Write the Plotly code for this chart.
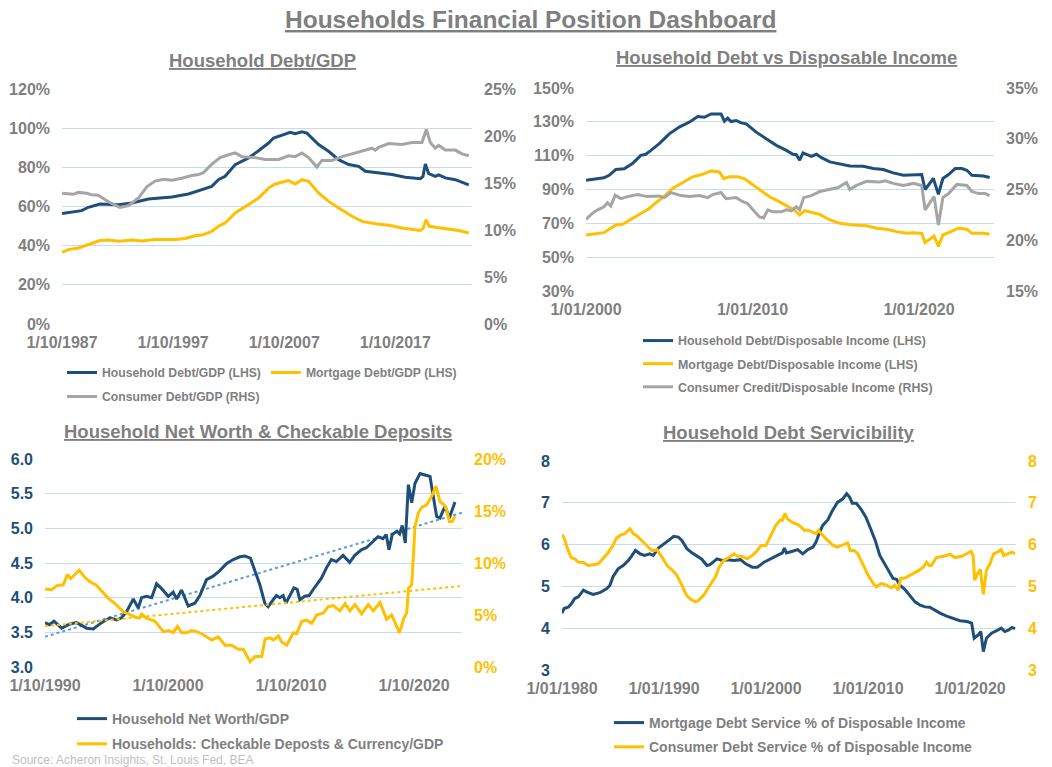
import numpy as np
import plotly.graph_objects as go

# ---------------- Colours / fonts ----------------
NAVY = "#1F4E79"
GOLD = "#FFC000"
GREY = "#A5A5A5"
TXT = "#7F7F7F"
GRID = "#C9DCEF"
FONT = "Liberation Sans, Arial, sans-serif"

# ---------------- Panel 1: Household Debt/GDP ----------------
p1_hh_x = [1987.75, 1988.92, 1989.52, 1990.12, 1991.17, 1992.82, 1994.03, 1995.53, 1997.63, 1999.13,
           2000.33, 2001.23, 2001.83, 2002.43, 2003.34, 2004.54, 2005.44, 2006.34, 2006.79, 2007.54,
           2008.29, 2008.74, 2009.34, 2009.79, 2010.84, 2011.74, 2012.64, 2013.55, 2014.45, 2015.05,
           2016.25, 2017.45, 2018.65, 2020.0, 2020.24, 2020.45, 2020.75, 2021.35, 2021.65, 2022.25,
           2023.15, 2024.36]
p1_hh_y = [56.4, 57.5, 57.9, 59.6, 61.3, 60.9, 61.8, 63.8, 64.9, 66.4,
           68.6, 70.3, 73.7, 75.4, 81.4, 84.8, 88.5, 92.4, 95.0, 96.3,
           97.9, 97.2, 98.2, 97.5, 91.6, 88.2, 83.9, 81.4, 80.5, 78.0,
           77.1, 76.3, 74.9, 74.2, 75.4, 81.7, 76.8, 75.4, 76.1, 74.6,
           73.7, 71.0]
p1_mort_x = [1987.75, 1988.32, 1989.22, 1990.12, 1991.17, 1991.92, 1992.82, 1994.03, 1994.93, 1996.13,
             1997.93, 1998.83, 1999.73, 2000.33, 2001.23, 2001.83, 2002.43, 2003.34, 2004.54, 2005.44,
             2006.34, 2006.94, 2008.14, 2008.74, 2009.34, 2009.94, 2010.84, 2011.74, 2012.64, 2013.85,
             2014.75, 2015.95, 2017.15, 2018.35, 2020.0, 2020.24, 2020.51, 2020.81, 2021.35, 2022.55,
             2023.45, 2024.36]
p1_mort_y = [36.6, 38.0, 38.8, 40.5, 42.6, 42.9, 42.2, 42.9, 42.4, 43.1,
             43.1, 43.7, 45.1, 45.4, 47.3, 49.9, 51.6, 56.7, 60.9, 64.3,
             69.4, 71.5, 73.2, 71.5, 73.7, 72.9, 66.9, 62.6, 59.2, 55.0,
             52.4, 51.2, 50.4, 49.0, 47.8, 48.7, 53.3, 49.9, 49.4, 48.5,
             47.7, 46.5]
p1_cons_x = [1987.75, 1988.77, 1989.22, 1989.97, 1990.42, 1991.02, 1991.92, 1992.97, 1993.73, 1994.63,
             1995.38, 1996.13, 1996.88, 1997.63, 1998.53, 1999.43, 2000.03, 2000.48, 2001.23, 2001.98,
             2002.73, 2003.34, 2003.94, 2005.14, 2006.04, 2007.24, 2008.14, 2008.74, 2009.34, 2009.94,
             2010.69, 2011.14, 2012.04, 2012.94, 2013.85, 2014.75, 2015.65, 2015.95, 2016.25, 2017.15,
             2018.35, 2019.25, 2020.15, 2020.54, 2020.9, 2021.35, 2021.65, 2022.25, 2023.15, 2023.75,
             2024.36]
p1_cons_y = [13.9, 13.8, 14.0, 13.9, 13.75, 13.7, 13.0, 12.4, 12.6, 13.4,
             14.6, 15.2, 15.4, 15.3, 15.5, 15.8, 15.9, 16.1, 17.0, 17.7,
             18.0, 18.2, 17.8, 17.7, 17.5, 17.5, 17.9, 17.8, 18.2, 17.7,
             16.7, 17.4, 17.4, 17.8, 18.1, 18.4, 18.7, 18.5, 18.8, 19.2,
             19.1, 19.3, 19.3, 20.7, 19.3, 18.7, 19.0, 18.5, 18.5, 18.1,
             17.9]
p1_xtick_vals = [1987.75, 1997.75, 2007.75, 2017.75]
p1_xtick_text = ["1/10/1987", "1/10/1997", "1/10/2007", "1/10/2017"]

# ---------------- Panel 2: Household Debt vs Disposable Income ----------------
p2_x_hh = [2000.0, 2000.58, 2001.08, 2001.39, 2001.79, 2002.29, 2002.79, 2003.29, 2003.59, 2003.9,
           2004.4, 2005.0, 2005.6, 2006.2, 2006.71, 2007.11, 2007.51, 2008.11, 2008.31, 2008.51,
           2008.71, 2009.02, 2009.32, 2009.62, 2010.22, 2010.82, 2011.43, 2012.03, 2012.43, 2012.63,
           2012.83, 2013.03, 2013.53, 2013.84, 2014.14, 2014.64, 2015.24, 2015.84, 2016.65, 2017.25,
           2017.85, 2018.45, 2019.06, 2019.66, 2020.16, 2020.36, 2020.86, 2021.16, 2021.43, 2021.77,
           2022.17, 2022.57, 2022.87, 2023.17, 2023.88, 2024.24]
p2_hh = [95.5, 96.1, 96.9, 98.4, 101.8, 102.2, 105.3, 110.2, 110.8, 113.1,
         117.1, 122.9, 126.9, 129.8, 133.1, 132.7, 134.7, 134.7, 130.4, 132.2,
         130.2, 130.8, 129.4, 128.8, 123.9, 120.0, 116.1, 113.1, 110.8, 110.6,
         107.3, 111.6, 109.6, 110.8, 108.8, 106.3, 104.9, 103.9, 103.7, 102.4,
         101.8, 99.8, 98.4, 98.8, 98.8, 90.0, 96.5, 87.1, 96.5, 98.8,
         102.4, 102.4, 101.4, 98.4, 98.0, 97.1]
p2_x_mort = [2000.0, 2000.58, 2001.08, 2001.39, 2001.79, 2002.19, 2002.79, 2003.39, 2003.8, 2004.2,
             2004.6, 2005.2, 2005.8, 2006.41, 2007.01, 2007.51, 2008.01, 2008.27, 2008.61, 2009.12,
             2009.52, 2009.92, 2010.42, 2011.02, 2011.63, 2012.13, 2012.53, 2012.83, 2013.13, 2013.63,
             2014.04, 2014.64, 2015.24, 2016.04, 2016.85, 2017.45, 2018.05, 2018.65, 2019.26, 2019.66,
             2020.16, 2020.36, 2020.9, 2021.16, 2021.43, 2021.77, 2022.37, 2022.87, 2023.17, 2023.88,
             2024.24]
p2_mort = [63.1, 63.7, 64.5, 66.5, 69.0, 69.4, 72.9, 76.9, 78.8, 82.2,
           85.1, 90.6, 93.9, 97.5, 99.0, 101.0, 100.4, 96.5, 97.5, 97.5,
           96.3, 93.5, 89.6, 85.7, 82.7, 79.8, 77.8, 74.9, 77.5, 76.3,
           75.3, 72.0, 70.0, 69.0, 68.6, 67.1, 66.5, 65.1, 64.1, 64.5,
           64.1, 58.6, 62.5, 56.3, 63.1, 64.5, 67.1, 66.5, 64.1, 64.1,
           63.5]
p2_x_cons = [2000.0, 2000.38, 2000.68, 2001.08, 2001.29, 2001.49, 2001.75, 2002.09, 2002.49, 2003.09,
             2003.69, 2004.4, 2004.7, 2005.1, 2005.7, 2006.2, 2006.81, 2007.31, 2007.61, 2008.11,
             2008.41, 2009.02, 2009.42, 2009.72, 2010.02, 2010.42, 2010.66, 2010.92, 2011.22, 2011.73,
             2012.03, 2012.33, 2012.63, 2012.83, 2013.07, 2013.53, 2014.04, 2014.64, 2015.14, 2015.64,
             2015.84, 2016.24, 2016.85, 2017.65, 2017.95, 2018.45, 2019.06, 2019.66, 2020.16, 2020.36,
             2020.9, 2021.16, 2021.43, 2021.77, 2022.27, 2022.87, 2023.17, 2023.57, 2023.98, 2024.24]
p2_cons = [22.06, 22.65, 22.97, 23.3, 23.7, 23.37, 24.44, 24.1, 24.3, 24.5,
           24.3, 24.35, 24.2, 24.7, 24.4, 24.3, 24.4, 24.2, 24.5, 24.7,
           24.1, 24.2, 23.8, 23.6, 23.0, 22.3, 22.2, 23.0, 22.8, 22.8,
           23.0, 22.9, 23.3, 23.0, 24.2, 24.4, 24.8, 25.0, 25.2, 25.7,
           25.0, 25.4, 25.8, 25.75, 25.85, 25.6, 25.4, 25.6, 25.4, 23.0,
           24.3, 21.5, 24.2, 24.6, 25.5, 25.4, 24.8, 24.6, 24.6, 24.4]
p2_xtick_vals = [2000.0, 2010.0, 2020.0]
p2_xtick_text = ["1/01/2000", "1/01/2010", "1/01/2020"]

# ---------------- Panel 3: Net Worth & Checkable Deposits ----------------
p3_x_nw = [1990.75, 1991.10, 1991.48, 1992.10, 1992.78, 1993.32, 1994.13, 1994.67, 1995.35, 1996.03,
           1996.57, 1996.98, 1997.39, 1997.93, 1998.33, 1998.60, 1999.01, 1999.42, 1999.82, 2000.23,
           2000.77, 2001.17, 2001.45, 2001.85, 2002.39, 2002.93, 2003.34, 2003.88, 2004.42, 2004.96,
           2005.50, 2006.05, 2006.59, 2006.99, 2007.45, 2007.81, 2008.21, 2008.62, 2008.89, 2009.30,
           2009.57, 2009.84, 2010.11, 2010.33, 2010.65, 2010.98, 2011.25, 2011.47, 2011.87, 2012.22,
           2012.68, 2013.22, 2013.63, 2014.03, 2014.44, 2014.98, 2015.52, 2015.93, 2016.47, 2016.87,
           2017.42, 2017.82, 2018.22, 2018.49, 2018.71, 2018.98, 2019.36, 2019.58, 2019.79, 2020.04,
           2020.29, 2020.56, 2020.83, 2021.24, 2021.64, 2022.05, 2022.27, 2022.59, 2022.86, 2023.27,
           2023.62, 2024.08]
p3_nw = [3.64, 3.61, 3.66, 3.56, 3.62, 3.64, 3.56, 3.55, 3.64, 3.71,
         3.68, 3.71, 3.80, 3.98, 3.85, 4.00, 4.02, 4.00, 4.20, 4.13,
         4.02, 4.08, 3.98, 4.11, 3.88, 3.92, 4.03, 4.26, 4.31, 4.39,
         4.49, 4.55, 4.59, 4.60, 4.57, 4.40, 4.19, 3.92, 3.87, 3.97,
         4.03, 4.00, 4.03, 3.92, 4.04, 4.14, 4.12, 3.97, 4.02, 4.03,
         4.15, 4.28, 4.43, 4.55, 4.52, 4.61, 4.51, 4.61, 4.69, 4.72,
         4.81, 4.88, 4.85, 4.91, 4.69, 4.91, 4.96, 4.92, 5.04, 4.79,
         5.63, 5.37, 5.65, 5.79, 5.77, 5.75, 5.51, 5.17, 5.15, 5.32,
         5.15, 5.38]
p3_x_dep = [1990.75, 1991.29, 1991.70, 1992.24, 1992.57, 1992.84, 1993.54, 1994.00, 1994.40, 1994.89,
            1995.35, 1995.90, 1996.44, 1997.12, 1997.53, 1998.07, 1998.42, 1998.61, 1999.01, 1999.69,
            2000.37, 2000.77, 2001.18, 2001.51, 2001.86, 2002.27, 2002.67, 2003.08, 2003.49, 2003.89,
            2004.30, 2004.84, 2005.38, 2005.92, 2006.47, 2006.87, 2007.42, 2007.83, 2008.37, 2008.64,
            2009.05, 2009.32, 2009.72, 2009.99, 2010.40, 2010.94, 2011.21, 2011.62, 2012.02, 2012.43,
            2012.84, 2013.38, 2013.78, 2014.19, 2014.73, 2015.14, 2015.54, 2015.95, 2016.49, 2017.03,
            2017.44, 2017.98, 2018.52, 2018.93, 2019.20, 2019.56, 2019.93, 2020.15, 2020.31, 2020.56,
            2020.83, 2021.10, 2021.37, 2021.78, 2022.18, 2022.53, 2022.86, 2023.19, 2023.40, 2023.62,
            2023.86, 2024.08]
p3_dep = [7.5, 7.44, 7.8, 7.9, 8.9, 8.5, 9.3, 8.6, 8.2, 7.9,
          7.3, 6.6, 6.1, 5.3, 5.1, 4.8, 4.7, 5.1, 4.7, 4.4,
          3.4, 3.5, 3.3, 3.9, 3.3, 3.3, 3.5, 3.4, 3.2, 2.9,
          2.6, 2.9, 2.1, 2.1, 1.7, 1.7, 0.5, 1.0, 1.0, 2.7,
          2.8, 2.6, 3.0, 2.4, 2.1, 3.3, 3.2, 4.4, 4.5, 4.2,
          5.0, 5.2, 5.8, 5.9, 5.4, 6.1, 5.4, 6.0, 5.1, 6.0,
          5.4, 6.2, 4.6, 5.0, 4.2, 3.3, 4.7, 5.2, 7.6, 7.9,
          13.5, 14.8, 15.35, 15.6, 16.4, 17.4, 15.9, 15.6, 15.1, 14.0,
          14.0, 14.5]
p3_x_end = 2024.65
p3_xtick_vals = [1990.75, 2000.75, 2010.75, 2020.75]
p3_xtick_text = ["1/10/1990", "1/10/2000", "1/10/2010", "1/10/2020"]

# ---------------- Panel 4: Debt Servicibility ----------------
p4_x_mort = [1980.0, 1980.2, 1980.6, 1980.9, 1981.25, 1981.6, 1982.1, 1982.4, 1983.05, 1983.7,
             1984.4, 1984.7, 1985.0, 1985.5, 1986.0, 1986.5, 1986.8, 1987.2, 1987.65, 1988.1,
             1988.6, 1988.95, 1989.45, 1989.95, 1990.45, 1990.95, 1991.4, 1991.75, 1992.25, 1992.7,
             1993.2, 1993.7, 1994.2, 1994.5, 1995.2, 1995.7, 1996.2, 1996.85, 1997.5, 1998.0,
             1998.65, 1999.15, 1999.8, 2000.45, 2001.1, 2001.6, 2001.8, 2002.0, 2002.6, 2003.1,
             2003.6, 2004.1, 2004.6, 2004.9, 2005.2, 2005.55, 2006.05, 2006.5, 2007.0, 2007.5,
             2007.9, 2008.2, 2008.45, 2008.85, 2009.3, 2009.8, 2010.25, 2010.7, 2011.15, 2011.6,
             2012.05, 2012.45, 2012.8, 2013.1, 2013.6, 2014.1, 2014.6, 2015.1, 2015.6, 2016.05,
             2016.55, 2017.05, 2017.7, 2018.35, 2019.0, 2019.7, 2020.15, 2020.4, 2020.8, 2021.05,
             2021.3, 2021.6, 2022.1, 2022.6, 2023.05, 2023.4, 2023.8, 2024.1, 2024.4]
p4_mort = [4.36, 4.47, 4.50, 4.58, 4.71, 4.75, 4.91, 4.87, 4.81, 4.85,
           4.95, 5.03, 5.23, 5.42, 5.50, 5.62, 5.72, 5.86, 5.78, 5.74,
           5.78, 5.74, 5.92, 6.00, 6.10, 6.20, 6.18, 6.10, 5.90, 5.81,
           5.72, 5.65, 5.50, 5.52, 5.66, 5.62, 5.64, 5.62, 5.64, 5.54,
           5.46, 5.46, 5.58, 5.66, 5.72, 5.80, 5.92, 5.80, 5.84, 5.88,
           5.78, 5.88, 5.94, 6.06, 6.26, 6.46, 6.59, 6.81, 7.01, 7.09,
           7.22, 7.13, 6.99, 6.99, 6.85, 6.65, 6.38, 6.10, 5.74, 5.56,
           5.37, 5.19, 5.17, 5.03, 4.93, 4.77, 4.63, 4.55, 4.51, 4.50,
           4.43, 4.36, 4.29, 4.24, 4.18, 4.16, 4.12, 3.76, 3.84, 3.92,
           3.44, 3.76, 3.88, 3.94, 4.00, 3.92, 3.96, 4.02, 3.99]
p4_x_cons = [1980.0, 1980.2, 1980.6, 1980.9, 1981.25, 1981.6, 1982.1, 1982.55, 1983.05, 1983.55,
             1984.0, 1984.5, 1985.0, 1985.35, 1985.7, 1986.15, 1986.65, 1987.0, 1987.3, 1987.8,
             1988.3, 1988.8, 1989.1, 1989.3, 1989.8, 1990.3, 1990.8, 1991.25, 1991.75, 1992.2,
             1992.6, 1993.1, 1993.4, 1993.9, 1994.4, 1994.7, 1995.05, 1995.4, 1995.85, 1996.35,
             1996.85, 1997.2, 1997.65, 1998.15, 1998.65, 1999.15, 1999.5, 2000.0, 2000.45, 2000.95,
             2001.4, 2001.6, 2001.85, 2002.1, 2002.6, 2003.1, 2003.4, 2003.75, 2004.1, 2004.55,
             2004.9, 2005.15, 2005.55, 2006.05, 2006.55, 2007.0, 2007.7, 2008.0, 2008.25, 2008.65,
             2009.0, 2009.5, 2010.0, 2010.5, 2010.8, 2011.3, 2011.8, 2012.3, 2012.6, 2012.95,
             2013.2, 2013.6, 2014.25, 2014.9, 2015.4, 2015.75, 2016.0, 2016.2, 2016.7, 2017.4,
             2018.05, 2018.5, 2019.2, 2019.7, 2020.1, 2020.3, 2020.45, 2020.75, 2021.0, 2021.3,
             2021.6, 2021.95, 2022.3, 2022.7, 2023.05, 2023.3, 2023.8, 2024.1, 2024.4]
p4_cons = [6.24, 6.16, 5.86, 5.69, 5.66, 5.58, 5.57, 5.50, 5.52, 5.54,
           5.66, 5.80, 5.98, 6.16, 6.22, 6.26, 6.38, 6.26, 6.22, 6.10,
           5.98, 5.86, 5.86, 5.88, 5.70, 5.50, 5.39, 5.27, 5.03, 4.79,
           4.69, 4.63, 4.67, 4.79, 4.99, 5.09, 5.23, 5.46, 5.62, 5.69,
           5.78, 5.72, 5.72, 5.66, 5.74, 5.86, 5.98, 5.98, 6.22, 6.46,
           6.59, 6.58, 6.75, 6.61, 6.53, 6.48, 6.43, 6.34, 6.35, 6.30,
           6.26, 6.34, 6.22, 6.10, 5.98, 5.94, 6.00, 6.04, 5.86, 5.86,
           5.78, 5.54, 5.27, 5.07, 4.99, 5.07, 5.03, 4.97, 5.03, 4.91,
           5.19, 5.20, 5.29, 5.37, 5.46, 5.58, 5.50, 5.50, 5.69, 5.72,
           5.77, 5.69, 5.72, 5.78, 5.84, 5.74, 5.15, 5.31, 5.41, 4.81,
           5.39, 5.54, 5.78, 5.82, 5.88, 5.74, 5.78, 5.82, 5.78]
p4_xtick_vals = [1980.0, 1990.0, 2000.0, 2010.0, 2020.0]
p4_xtick_text = ["1/01/1980", "1/01/1990", "1/01/2000", "1/01/2010", "1/01/2020"]

W, H = 1052, 767


def px_x(v):
    return v / W


def px_y(v):
    return 1 - v / H


def linear_trend(xs, ys, x_end):
    # Excel-style linear trendline fitted on a quarterly resampling of the series
    grid = np.arange(xs[0], xs[-1] + 1e-9, 0.25)
    vals = np.interp(grid, xs, ys)
    k, b = np.polyfit(grid, vals, 1)
    tx = np.array([xs[0], x_end])
    return tx, k * tx + b


fig = go.Figure()

# Panel 1 traces
fig.add_trace(go.Scatter(x=p1_hh_x, y=p1_hh_y, name="Household Debt/GDP (LHS)", mode="lines",
                         line=dict(color=NAVY, width=3), xaxis="x", yaxis="y", legend="legend"))
fig.add_trace(go.Scatter(x=p1_mort_x, y=p1_mort_y, name="Mortgage Debt/GDP (LHS)", mode="lines",
                         line=dict(color=GOLD, width=3), xaxis="x", yaxis="y", legend="legend"))
fig.add_trace(go.Scatter(x=p1_cons_x, y=p1_cons_y, name="Consumer Debt/GDP (RHS)", mode="lines",
                         line=dict(color=GREY, width=3), xaxis="x", yaxis="y2", legend="legend5"))

# Panel 2 traces
fig.add_trace(go.Scatter(x=p2_x_hh, y=p2_hh, name="Household Debt/Disposable Income (LHS)", mode="lines",
                         line=dict(color=NAVY, width=3), xaxis="x2", yaxis="y3", legend="legend2",
                         legendgroup="a2"))
fig.add_trace(go.Scatter(x=p2_x_mort, y=p2_mort, name="Mortgage Debt/Disposable Income (LHS)", mode="lines",
                         line=dict(color=GOLD, width=3), xaxis="x2", yaxis="y3", legend="legend2",
                         legendgroup="b2"))
fig.add_trace(go.Scatter(x=p2_x_cons, y=p2_cons, name="Consumer Credit/Disposable Income (RHS)", mode="lines",
                         line=dict(color=GREY, width=3), xaxis="x2", yaxis="y4", legend="legend2",
                         legendgroup="c2"))

# Panel 3 traces
tx, ty = linear_trend(p3_x_nw, p3_nw, p3_x_end)
fig.add_trace(go.Scatter(x=tx, y=ty, mode="lines", showlegend=False, hoverinfo="skip",
                         line=dict(color="#5B9BD5", width=2, dash="dot"), xaxis="x3", yaxis="y5"))
tx, ty = linear_trend(p3_x_dep, p3_dep, p3_x_end)
fig.add_trace(go.Scatter(x=tx, y=ty, mode="lines", showlegend=False, hoverinfo="skip",
                         line=dict(color=GOLD, width=2, dash="dot"), xaxis="x3", yaxis="y6"))
fig.add_trace(go.Scatter(x=p3_x_nw, y=p3_nw, name="Household Net Worth/GDP", mode="lines",
                         line=dict(color=NAVY, width=3), xaxis="x3", yaxis="y5", legend="legend3",
                         legendgroup="a3"))
fig.add_trace(go.Scatter(x=p3_x_dep, y=p3_dep, name="Households: Checkable Deposts & Currency/GDP",
                         mode="lines", line=dict(color=GOLD, width=3), xaxis="x3", yaxis="y6",
                         legend="legend3", legendgroup="b3"))

# Panel 4 traces
fig.add_trace(go.Scatter(x=p4_x_mort, y=p4_mort, name="Mortgage Debt Service % of Disposable Income",
                         mode="lines", line=dict(color=NAVY, width=3), xaxis="x4", yaxis="y7",
                         legend="legend4", legendgroup="a4"))
fig.add_trace(go.Scatter(x=p4_x_cons, y=p4_cons, name="Consumer Debt Service % of Disposable Income",
                         mode="lines", line=dict(color=GOLD, width=3), xaxis="x4", yaxis="y8",
                         legend="legend4", legendgroup="b4"))


def xax(domain, rng, vals, text, anchor):
    return dict(domain=domain, range=rng, tickmode="array", tickvals=vals, ticktext=text,
                showgrid=False, zeroline=False, showline=False, ticks="", anchor=anchor,
                ticklabelstandoff=7, fixedrange=True, automargin=False,
                tickfont=dict(family=FONT, size=16, color=TXT, weight="bold"))


def yax(domain, rng, dtick, color, anchor, side="left", overlay=None, suffix="", fmt=None, grid=True):
    d = dict(domain=domain, range=rng, dtick=dtick, tick0=rng[0], showgrid=grid, gridcolor=GRID,
             gridwidth=1, zeroline=False, showline=False, ticks="", anchor=anchor, side=side,
             ticksuffix=suffix, ticklabelstandoff=11, fixedrange=True, automargin=False,
             tickfont=dict(family=FONT, size=16, color=color, weight="bold"))
    if fmt:
        d["tickformat"] = fmt
    if overlay:
        d["overlaying"] = overlay
    return d


# domains (from pixel positions)
d1x = [px_x(62), px_x(472)]
d1y = [px_y(324), px_y(89)]
d2x = [px_x(586), px_x(994)]
d2y = [px_y(291), px_y(88)]
d3x = [px_x(45), px_x(462)]
d3y = [px_y(667), px_y(459)]
d4x = [px_x(562), px_x(1016)]
d4y = [px_y(670), px_y(461)]


def legend(x, y, size, orientation="v", gap=3):
    return dict(x=x, y=y, xanchor="left", yanchor="top", orientation=orientation,
                bgcolor="rgba(0,0,0,0)", borderwidth=0, tracegroupgap=gap, itemclick=False,
                font=dict(family=FONT, size=size, color=TXT, weight="bold"))


fig.update_layout(
    width=W, height=H, margin=dict(l=0, r=0, t=0, b=0, autoexpand=False),
    paper_bgcolor="white", plot_bgcolor="white",
    font=dict(family=FONT, color=TXT),
    xaxis=xax(d1x, [1987.75, 2024.65], p1_xtick_vals, p1_xtick_text, "y"),
    yaxis=yax(d1y, [0, 120], 20, TXT, "x", suffix="%"),
    yaxis2=yax(d1y, [0, 25], 5, TXT, "x", side="right", overlay="y", suffix="%", grid=False),
    xaxis2=xax(d2x, [2000.0, 2024.5], p2_xtick_vals, p2_xtick_text, "y3"),
    yaxis3=yax(d2y, [30, 150], 20, TXT, "x2", suffix="%"),
    yaxis4=yax(d2y, [15, 35], 5, TXT, "x2", side="right", overlay="y3", suffix="%", grid=False),
    xaxis3=xax(d3x, [1990.75, p3_x_end], p3_xtick_vals, p3_xtick_text, "y5"),
    yaxis5=yax(d3y, [3.0, 6.0], 0.5, NAVY, "x3", fmt=".1f"),
    yaxis6=yax(d3y, [0, 20], 5, GOLD, "x3", side="right", overlay="y5", suffix="%", grid=False),
    xaxis4=xax(d4x, [1980.0, 2024.5], p4_xtick_vals, p4_xtick_text, "y7"),
    yaxis7=yax(d4y, [3, 8], 1, NAVY, "x4"),
    yaxis8=yax(d4y, [3, 8], 1, GOLD, "x4", side="right", overlay="y7", grid=False),
    legend=legend(px_x(62), px_y(358), 12.2, orientation="h"),
    legend5=legend(px_x(62), px_y(382), 12.2),
    legend2=legend(px_x(638), px_y(326), 12.4, gap=4),
    legend3=legend(px_x(72), px_y(703), 14, gap=4),
    legend4=legend(px_x(609), px_y(707), 14, gap=3),
    showlegend=True,
)

titles = [
    ("Households Financial Position Dashboard", 530, 20, 24.5),
    ("Household Debt/GDP", 262, 60, 18.5),
    ("Household Debt vs Disposable Income", 786, 58, 18.5),
    ("Household Net Worth & Checkable Deposits", 258, 431, 18.5),
    ("Household Debt Servicibility", 789, 432, 18.5),
]
for text, x, y, size in titles:
    fig.add_annotation(text=text, x=px_x(x), y=px_y(y), xref="paper", yref="paper",
                       xanchor="center", yanchor="middle", showarrow=False,
                       font=dict(family=FONT, size=size, color=TXT, weight="bold",
                                 lineposition="under"))

fig.add_annotation(text="Source: Acheron Insights, St. Louis Fed, BEA", x=px_x(10), y=px_y(760),
                   xref="paper", yref="paper", xanchor="left", yanchor="middle", showarrow=False,
                   font=dict(family=FONT, size=12, color="#BFBFBF"))

fig.write_html("out.html")
